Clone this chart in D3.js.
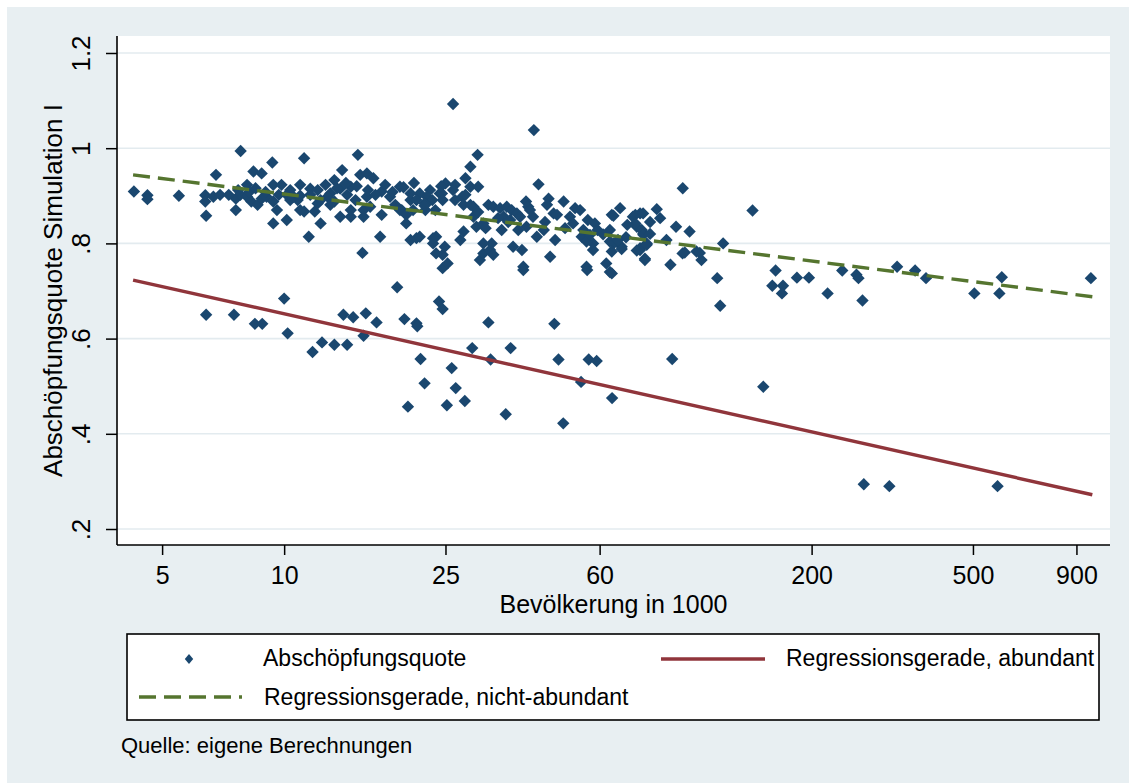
<!DOCTYPE html>
<html>
<head>
<meta charset="utf-8">
<script src="https://cdn.jsdelivr.net/npm/d3@7"></script>
<style>
  html, body { margin: 0; padding: 0; background: #ffffff; }
  svg { display: block; }
  text { font-family: "Liberation Sans", Arial, sans-serif; fill: #000; }
</style>
</head>
<body>
<svg id="chart" width="1129" height="783"></svg>
<script>
// ---------- data ----------
const population = [
  // abundant group
  6.42,7.52,8.47,8.83,10,10.2,11.75,12.4,13.3,14.0,14.3,14.8,15.9,15.7,16.9,19.0,19.8,21.2,21.3,20.2,21.7,22.2,24.1,24.6,25.2,25.9,26.5,27.9,29.1,31.9,32.3,35.2,36.2,46.4,47.5,48.8,54.0,56.4,59.0,64.4,90.6,152,269,311,575,
  // non-abundant group
  4.26,4.6,4.6,5.5,6.39,6.39,6.42,6.69,6.79,6.95,7.6,7.81,7.6,7.8,8.1,8.4,8.8,9.35,8.1,8.3,8.6,8.8,9.05,9.4,9.4,9.6,10.15,9.4,9.85,10.15,10.55,11.2,11.6,11.5,11.2,11.9,12.3,13.0,13.3,13.9,13.75,14.3,14.6,15.2,15.4,16.0,16.6,16.0,15.7,16.3,15.7,17.4,17.4,17.25,18.25,19.3,19.3,20.0,20.5,21.2,21.6,22.9,23.7,23.3,24.2,24.6,25.0,24.9,24.6,15.6,13.75,14.6,13.3,12.1,12.8,10.8,10.95,11.6,12.3,13.0,10.35,15.0,16.8,18.8,20.5,22.3,22.9,14.6,10.95,12.65,
  26.1,41.3,30,28.8,28,28.8,30.1,26.4,26.1,24.5,24.6,27.5,27.7,29.3,19.5,20,20.8,22.5,23.2,22.2,21.2,20.5,21.6,23.3,23.7,25.3,27.2,27.7,30.4,31,32.2,32.8,29.8,29.3,31,31.9,32.8,34.1,35.4,36.4,34.8,36.1,37.5,38.2,39.5,40,39.6,41.1,42,43.7,44.9,44.5,42.4,46.2,48.9,47.1,50.7,53.7,51.6,54.7,54.2,58.4,57.8,55.7,57.8,64.3,67.4,63.6,65,62.3,63.6,68,72.5,75.5,83,74.1,76.9,78.4,75.5,77.6,87.7,92.6,96.1,100,104,107,117,121,89.7,55.7,45.3,38.9,38.6,36.7,34.4,32.5,31,38.9,55.9,
  96.2,143,64.9,73.5,73.5,76.8,61.2,63.6,64.3,68.0,64.3,69.7,76.2,76.9,79.9,75.5,78.4,74.1,77.6,97.3,106,119,163,160,170,169,184,197,219,238,258,261,267,325,360,383,504,589,581,977,
  7.3,7.7,8.2,8.5,9.0,9.7,10.35,10.95,12.1,13.5,14.2,15.1,16.1,17.75,18.5,19.7,20.9,22.2,23.6,24.4,26.4,28,28.8,30.1,31.4,33.7,35.7,37.8,40.4,44,46.6,49.3,52.2,56.1,59.3,56.8,70.2,79.9,84.6,66.6
];
const quote = [
  .65,.65,.631,.631,.684,.611,.572,.592,.587,.65,.587,.645,.653,.606,.634,.708,.641,.632,.626,.457,.557,.506,.678,.662,.46,.538,.496,.469,.58,.634,.556,.441,.58,.631,.556,.422,.509,.556,.553,.475,.557,.499,.294,.29,.29,
  .909,.901,.893,.9,.901,.888,.858,.898,.944,.902,.870,.994,.894,.902,.923,.951,.947,.970,.898,.888,.881,.894,.898,.888,.842,.870,.849,.923,.923,.902,.898,.979,.915,.814,.867,.867,.842,.905,.933,.954,.915,.902,.919,.986,.944,.947,.937,.898,.870,.877,.856,.909,.860,.814,.898,.919,.870,.842,.807,.811,.905,.891,.814,.800,.905,.776,.926,.793,.748,.780,.856,.856,.888,.884,.898,.891,.870,.902,.891,.881,.912,.891,.902,.881,.891,.870,.912,.870,.923,.923,
  1.093,1.038,.986,.961,.937,.919,.919,.923,.912,.905,.891,.898,.881,.877,.870,.860,.870,.898,.891,.884,.891,.905,.814,.811,.779,.758,.807,.825,.765,.779,.786,.776,.835,.856,.842,.881,.877,.874,.877,.870,.856,.849,.863,.856,.888,.877,.835,.856,.814,.828,.894,.881,.924,.863,.888,.860,.856,.870,.842,.828,.814,.842,.800,.804,.786,.860,.874,.828,.800,.758,.740,.793,.856,.863,.872,.835,.821,.800,.786,.768,.807,.835,.779,.825,.783,.765,.727,.800,.755,.751,.772,.751,.786,.793,.828,.800,.800,.744,.744,
  .916,.869,.858,.86,.842,.863,.819,.804,.783,.788,.737,.813,.828,.818,.820,.79,.797,.785,.765,.781,.78,.669,.743,.711,.711,.695,.728,.728,.695,.743,.734,.727,.68,.751,.743,.727,.695,.729,.695,.727,
  .902,.912,.908,.916,.908,.902,.891,.9,.912,.916,.927,.92,.912,.923,.908,.918,.927,.879,.870,.92,.891,.902,.881,.866,.832,.853,.845,.828,.870,.845,.807,.832,.874,.849,.828,.818,.839,.845,.853,.807
];
// fitted regression lines (linear in log population)
const fitPopulation = [4.24, 985];
const fitAbundant = [0.723, 0.272];
const fitNonAbundant = [0.944, 0.688];

const xTicks = [5, 10, 25, 60, 200, 500, 900];
const yTicks = [0.2, 0.4, 0.6, 0.8, 1, 1.2];

const xTitle = "Bevölkerung in 1000";
const yTitle = "Abschöpfungsquote Simulation I";
const legendLabels = ["Abschöpfungsquote", "Regressionsgerade, abundant", "Regressionsgerade, nicht-abundant"];
const note = "Quelle: eigene Berechnungen";

// ---------- layout ----------
const W = 1129, H = 783;
const plot = { left: 117, right: 1110, top: 36, bottom: 545 };
const colors = { bg: "#e8eff2", grid: "#e3ebef", marker: "#1a476f", red: "#90353b", green: "#55752f" };

const svg = d3.select("#chart");
svg.append("rect").attr("x", 0).attr("y", 0).attr("width", W).attr("height", H).attr("fill", "#ffffff");
svg.append("rect").attr("x", 7).attr("y", 7).attr("width", W - 7).attr("height", H - 7).attr("fill", colors.bg);
svg.append("rect").attr("x", plot.left).attr("y", plot.top)
  .attr("width", plot.right - plot.left).attr("height", plot.bottom - plot.top).attr("fill", "#ffffff");

const x = d3.scaleLog().domain([3.87, 1089]).range([plot.left, plot.right]);
const y = d3.scaleLinear().domain([0.1664, 1.2357]).range([plot.bottom, plot.top]);

// grid
svg.append("g").selectAll("line").data(yTicks).join("line")
  .attr("x1", plot.left).attr("x2", plot.right)
  .attr("y1", d => y(d)).attr("y2", d => y(d))
  .attr("stroke", colors.grid).attr("stroke-width", 1.6);

// axes
const fmtY = d => String(d).replace(/^0(?=\.)/, "");
const yAxis = d3.axisLeft(y).tickValues(yTicks).tickFormat(fmtY).tickSize(11).tickPadding(14);
const gy = svg.append("g").attr("transform", `translate(${plot.left},0)`).call(yAxis);
gy.select(".domain").remove();
gy.selectAll(".tick line").attr("stroke", "#000").attr("stroke-width", 1.5);
gy.selectAll(".tick text")
  .attr("font-size", 26).attr("font-family", "Liberation Sans, Arial, sans-serif")
  .attr("fill", "#000")
  .attr("transform", "rotate(-90)")
  .attr("x", 0).attr("y", -27).attr("dy", 0)
  .attr("text-anchor", "middle");

const xAxis = d3.axisBottom(x).tickValues(xTicks).tickFormat(d3.format("d")).tickSize(10).tickPadding(10);
const gx = svg.append("g").attr("transform", `translate(0,${plot.bottom})`).call(xAxis);
gx.select(".domain").remove();
gx.selectAll(".tick line").attr("stroke", "#000").attr("stroke-width", 1.5);
gx.selectAll(".tick text").attr("font-size", 25).attr("font-family", "Liberation Sans, Arial, sans-serif")
  .attr("fill", "#000").attr("y", 39).attr("dy", 0);

// axis lines
svg.append("line").attr("x1", plot.left).attr("x2", plot.left).attr("y1", plot.top).attr("y2", plot.bottom)
  .attr("stroke", "#000").attr("stroke-width", 1.6);
svg.append("line").attr("x1", plot.left).attr("x2", plot.right).attr("y1", plot.bottom).attr("y2", plot.bottom)
  .attr("stroke", "#000").attr("stroke-width", 1.6);

// axis titles
svg.append("text").attr("x", (plot.left + plot.right) / 2).attr("y", 613)
  .attr("text-anchor", "middle").attr("font-size", 25).text(xTitle);
svg.append("text").attr("transform", `translate(62,${(plot.top + plot.bottom) / 2}) rotate(-90)`)
  .attr("text-anchor", "middle").attr("font-size", 26).text(yTitle);

// points
const pts = population.map((p, i) => ({ p, q: quote[i] }));
const diamond = "M0,-6.2L6.2,0L0,6.2L-6.2,0Z";
svg.append("g").selectAll("path").data(pts).join("path")
  .attr("d", diamond)
  .attr("transform", d => `translate(${x(d.p)},${y(d.q)})`)
  .attr("fill", colors.marker);

// regression lines
const line = d3.line().x(d => x(d[0])).y(d => y(d[1]));
svg.append("path").datum(fitPopulation.map((p, i) => [p, fitAbundant[i]]))
  .attr("d", line).attr("fill", "none").attr("stroke", colors.red).attr("stroke-width", 3.4);
svg.append("path").datum(fitPopulation.map((p, i) => [p, fitNonAbundant[i]]))
  .attr("d", line).attr("fill", "none").attr("stroke", colors.green).attr("stroke-width", 3.4)
  .attr("stroke-dasharray", "17,8");

// legend
const lg = svg.append("g");
lg.append("rect").attr("x", 127).attr("y", 634).attr("width", 972).attr("height", 86)
  .attr("fill", "#ffffff").attr("stroke", "#000").attr("stroke-width", 1.6);
lg.append("path").attr("d", "M0,-5L4.2,0L0,5L-4.2,0Z").attr("transform", "translate(189,659)").attr("fill", colors.marker);
lg.append("text").attr("x", 263).attr("y", 666).attr("font-size", 23).text(legendLabels[0]);
lg.append("line").attr("x1", 661).attr("x2", 765).attr("y1", 659).attr("y2", 659)
  .attr("stroke", colors.red).attr("stroke-width", 3.4);
lg.append("text").attr("x", 786).attr("y", 666).attr("font-size", 23).text(legendLabels[1]);
lg.append("line").attr("x1", 139).attr("x2", 242).attr("y1", 697).attr("y2", 697)
  .attr("stroke", colors.green).attr("stroke-width", 3.4).attr("stroke-dasharray", "17,8");
lg.append("text").attr("x", 264).attr("y", 705).attr("font-size", 23).text(legendLabels[2]);

svg.append("text").attr("x", 121).attr("y", 753).attr("font-size", 22).text(note);
</script>
</body>
</html>
